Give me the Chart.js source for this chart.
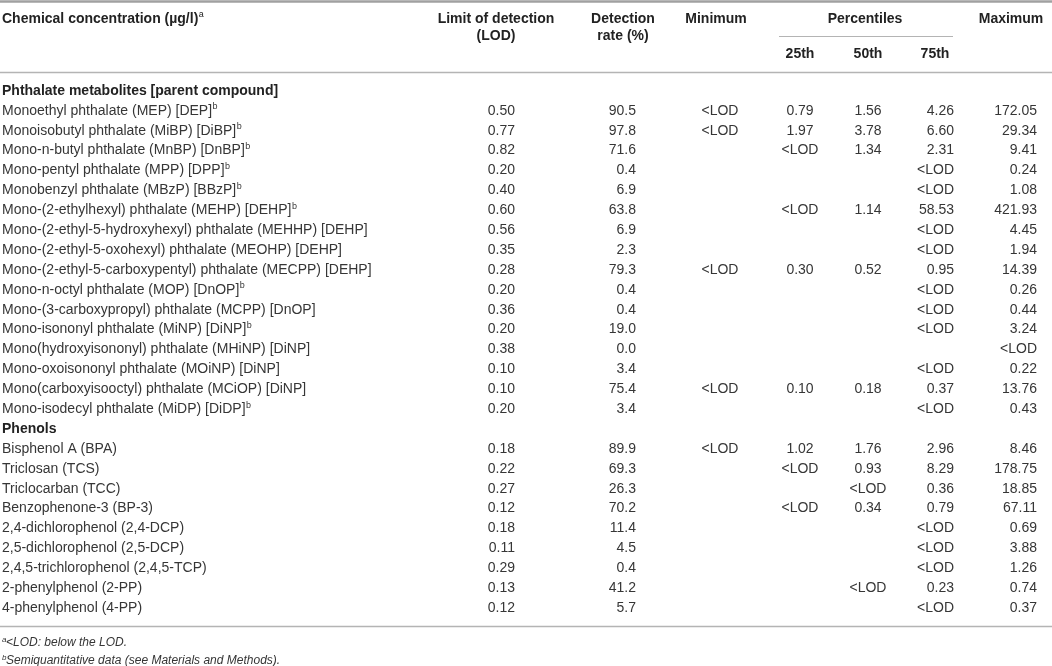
<!DOCTYPE html>
<html lang="en">
<head>
    <meta charset="UTF-8">
    <title>Urinary chemical concentrations</title>
    <script src="https://cdn.jsdelivr.net/npm/chart.js@4.4.1/dist/chart.umd.min.js"></script>
    <style>
        body {
            margin: 0;
            background: #fff;
        }
        #wrap {
            position: relative;
            width: 1052px;
            height: 666px;
        }
    </style>
</head>
<body>
<div id="wrap"><canvas id="tbl"></canvas></div>

<script>
    // Table rows (section headers are rows 0 and 17)
    const rowNames = [
        'Phthalate metabolites [parent compound]',
        'Monoethyl phthalate (MEP) [DEP]',
        'Monoisobutyl phthalate (MiBP) [DiBP]',
        'Mono-n-butyl phthalate (MnBP) [DnBP]',
        'Mono-pentyl phthalate (MPP) [DPP]',
        'Monobenzyl phthalate (MBzP) [BBzP]',
        'Mono-(2-ethylhexyl) phthalate (MEHP) [DEHP]',
        'Mono-(2-ethyl-5-hydroxyhexyl) phthalate (MEHHP) [DEHP]',
        'Mono-(2-ethyl-5-oxohexyl) phthalate (MEOHP) [DEHP]',
        'Mono-(2-ethyl-5-carboxypentyl) phthalate (MECPP) [DEHP]',
        'Mono-n-octyl phthalate (MOP) [DnOP]',
        'Mono-(3-carboxypropyl) phthalate (MCPP) [DnOP]',
        'Mono-isononyl phthalate (MiNP) [DiNP]',
        'Mono(hydroxyisononyl) phthalate (MHiNP) [DiNP]',
        'Mono-oxoisononyl phthalate (MOiNP) [DiNP]',
        'Mono(carboxyisooctyl) phthalate (MCiOP) [DiNP]',
        'Mono-isodecyl phthalate (MiDP) [DiDP]',
        'Phenols',
        'Bisphenol A (BPA)',
        'Triclosan (TCS)',
        'Triclocarban (TCC)',
        'Benzophenone-3 (BP-3)',
        '2,4-dichlorophenol (2,4-DCP)',
        '2,5-dichlorophenol (2,5-DCP)',
        '2,4,5-trichlorophenol (2,4,5-TCP)',
        '2-phenylphenol (2-PP)',
        '4-phenylphenol (4-PP)'
    ];
    const rowNotes = ['', 'b', 'b', 'b', 'b', 'b', 'b', '', '', '', 'b', '', 'b', '', '', '', 'b',
                      '', '', '', '', '', '', '', '', '', ''];
    const sectionRows = [0, 17];

    const lodValues = ['', '0.50', '0.77', '0.82', '0.20', '0.40', '0.60', '0.56', '0.35', '0.28', '0.20', '0.36', '0.20', '0.38', '0.10', '0.10', '0.20',
                       '', '0.18', '0.22', '0.27', '0.12', '0.18', '0.11', '0.29', '0.13', '0.12'];
    const rateValues = ['', '90.5', '97.8', '71.6', '0.4', '6.9', '63.8', '6.9', '2.3', '79.3', '0.4', '0.4', '19.0', '0.0', '3.4', '75.4', '3.4',
                        '', '89.9', '69.3', '26.3', '70.2', '11.4', '4.5', '0.4', '41.2', '5.7'];
    const minValues = ['', '<LOD', '<LOD', '', '', '', '', '', '', '<LOD', '', '', '', '', '', '<LOD', '',
                       '', '<LOD', '', '', '', '', '', '', '', ''];
    const p25Values = ['', '0.79', '1.97', '<LOD', '', '', '<LOD', '', '', '0.30', '', '', '', '', '', '0.10', '',
                       '', '1.02', '<LOD', '', '<LOD', '', '', '', '', ''];
    const p50Values = ['', '1.56', '3.78', '1.34', '', '', '1.14', '', '', '0.52', '', '', '', '', '', '0.18', '',
                       '', '1.76', '0.93', '<LOD', '0.34', '', '', '', '<LOD', ''];
    const p75Values = ['', '4.26', '6.60', '2.31', '<LOD', '<LOD', '58.53', '<LOD', '<LOD', '0.95', '<LOD', '<LOD', '<LOD', '', '<LOD', '0.37', '<LOD',
                       '', '2.96', '8.29', '0.36', '0.79', '<LOD', '<LOD', '<LOD', '0.23', '<LOD'];
    const maxValues = ['', '172.05', '29.34', '9.41', '0.24', '1.08', '421.93', '4.45', '1.94', '14.39', '0.26', '0.44', '3.24', '<LOD', '0.22', '13.76', '0.43',
                       '', '8.46', '178.75', '18.85', '67.11', '0.69', '3.88', '1.26', '0.74', '0.37'];

    const footnotes = [
        ['a', '<LOD: below the LOD.'],
        ['b', 'Semiquantitative data (see Materials and Methods).']
    ];

    const FONT = '"Liberation Sans", Arial, sans-serif';
    const TEXT = '#363636';
    const RULE = '#b4b4b4';

    // value columns: anchor on the x scale and alignment
    const columns = [
        { values: lodValues, x: 515, align: 'right' },
        { values: rateValues, x: 636, align: 'right' },
        { values: minValues, x: 720, align: 'center' },
        { values: p25Values, x: 800, align: 'center' },
        { values: p50Values, x: 868, align: 'center' },
        { values: p75Values, x: 954, align: 'right' },
        { values: maxValues, x: 1037, align: 'right' }
    ];

    function textWithNote(ctx, str, note, x, y, font, size) {
        ctx.font = font + ' ' + size + 'px ' + FONT;
        ctx.textAlign = 'left';
        ctx.fillText(str, x, y);
        if (note) {
            const w = ctx.measureText(str).width;
            ctx.font = Math.round(size * 0.62) + 'px ' + FONT;
            ctx.fillText(note, x + w + 0.5, y - 4);
        }
    }

    function hline(ctx, x1, x2, y, width, color) {
        ctx.strokeStyle = color;
        ctx.lineWidth = width;
        ctx.beginPath();
        ctx.moveTo(x1, y);
        ctx.lineTo(x2, y);
        ctx.stroke();
    }

    const tablePlugin = {
        id: 'tablePlugin',
        afterDraw(chart) {
            const ctx = chart.ctx;
            const xs = chart.scales.x;
            const ys = chart.scales.y;
            const X = v => xs.getPixelForValue(v);
            ctx.save();
            ctx.textBaseline = 'middle';
            ctx.fillStyle = TEXT;

            // rules
            hline(ctx, 0, chart.width, 1.5, 2.5, '#a0a0a0');
            hline(ctx, X(779), X(953), 36.5, 1, RULE);
            hline(ctx, 0, chart.width, 72.5, 1.5, RULE);
            hline(ctx, 0, chart.width, 626.5, 1.5, RULE);

            // column headers
            ctx.fillStyle = '#222';
            textWithNote(ctx, 'Chemical concentration (µg/l)', 'a', X(2), 19, 'bold', 14);
            ctx.font = 'bold 14px ' + FONT;
            ctx.textAlign = 'center';
            ctx.fillText('Limit of detection', X(496), 19);
            ctx.fillText('(LOD)', X(496), 36);
            ctx.fillText('Detection', X(623), 19);
            ctx.fillText('rate (%)', X(623), 36);
            ctx.fillText('Minimum', X(716), 19);
            ctx.fillText('Percentiles', X(865), 19);
            ctx.fillText('Maximum', X(1011), 19);
            ctx.fillText('25th', X(800), 54);
            ctx.fillText('50th', X(868), 54);
            ctx.fillText('75th', X(935), 54);

            // body rows
            rowNames.forEach((name, i) => {
                const y = ys.getPixelForValue(i);
                if (sectionRows.includes(i)) {
                    ctx.fillStyle = '#222';
                    textWithNote(ctx, name, '', X(2), y, 'bold', 14);
                    return;
                }
                ctx.fillStyle = TEXT;
                textWithNote(ctx, name, rowNotes[i], X(2), y, 'normal', 14);
                ctx.font = '14px ' + FONT;
                columns.forEach(col => {
                    const v = col.values[i];
                    if (!v) return;
                    ctx.textAlign = col.align;
                    ctx.fillText(v, X(col.x), y);
                });
            });

            // footnotes
            ctx.fillStyle = TEXT;
            footnotes.forEach((f, k) => {
                const y = 643 + k * 17.5;
                ctx.font = 'italic 8px ' + FONT;
                ctx.textAlign = 'left';
                ctx.fillText(f[0], X(2), y - 3);
                ctx.font = 'italic 12px ' + FONT;
                ctx.fillText(f[1], X(6), y);
            });
            ctx.restore();
        }
    };

    new Chart(document.getElementById('tbl'), {
        type: 'scatter',
        data: { datasets: [] },
        options: {
            responsive: true,
            maintainAspectRatio: false,
            animation: false,
            layout: { padding: { top: 81, bottom: 48, left: 0, right: 0 } },
            plugins: { legend: { display: false }, tooltip: { enabled: false } },
            scales: {
                x: { type: 'linear', min: 0, max: 1052, display: false },
                y: { type: 'category', labels: rowNames, offset: true, display: false }
            }
        },
        plugins: [tablePlugin]
    });
</script>
</body>
</html>
